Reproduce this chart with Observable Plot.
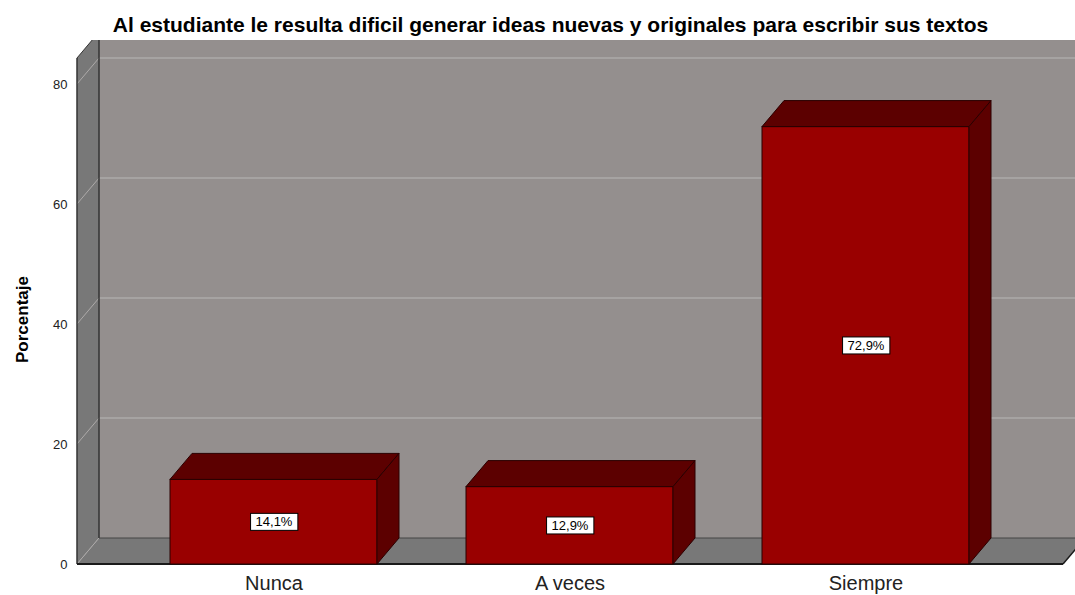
<!DOCTYPE html>
<html>
<head>
<meta charset="utf-8">
<script src="https://cdn.jsdelivr.net/npm/d3@7"></script>
<script src="https://cdn.jsdelivr.net/npm/@observablehq/plot@0.6"></script>
<style>
  html, body { margin: 0; padding: 0; background: #fff; }
  body { width: 1075px; height: 595px; overflow: hidden; font-family: "Liberation Sans", Arial, sans-serif; }
  #title { height: 40px; box-sizing: border-box; padding-top: 14px; padding-left: 26px; text-align: center;
           font-weight: bold; font-size: 21px; line-height: 21px; color: #000; white-space: nowrap; overflow: visible; }
  #chart svg { display: block; }
</style>
</head>
<body>
<div id="title">Al estudiante le resulta dificil generar ideas nuevas y originales para escribir sus textos</div>
<div id="chart"></div>
<script>
// ---- data ----
const categories = ["Nunca", "A veces", "Siempre"];
const percentages = [14.1, 12.9, 72.9];
const valueLabels = ["14,1%", "12,9%", "72,9%"];
const yTicks = [0, 20, 40, 60, 80];
const yAxisLabel = "Porcentaje";

const data = categories.map((c, i) => ({cat: c, pct: percentages[i], label: valueLabels[i]}));

// ---- style constants ----
const DX = 22, DY = -26;
const FRONT = "#990000", DARK = "#5c0000", EDGE = "#2a0000";
const BACKWALL = "#948f8e", SIDEWALL = "#787878", GRID = "#adaaa9";

const plot = Plot.plot({
  width: 1075,
  height: 555,
  marginLeft: 77,
  marginRight: 12,
  marginTop: 18,
  marginBottom: 31,
  style: {fontFamily: "'Liberation Sans', Arial, sans-serif", fontSize: "13px", color: "#222", background: "transparent"},
  x: {domain: categories, paddingInner: 0.3, paddingOuter: 0.3155, align: 0.5, label: null},
  y: {domain: [0, 84.33], label: null},
  marks: [
    Plot.axisY({ticks: yTicks, tickSize: 0, tickPadding: 10, fontSize: 13, fill: "#222", label: null}),
    Plot.axisX({tickSize: 0, tickPadding: 11, fontSize: 20, fill: "#222", label: null}),
    Plot.barY(data, {x: "cat", y: "pct", fill: FRONT, stroke: EDGE, strokeWidth: 1}),
    Plot.text(data, {x: "cat", y: d => d.pct / 2, text: "label", fontSize: 13, fill: "#000", className: "vlabel"}),
    Plot.text([yAxisLabel], {frameAnchor: "left", textAnchor: "middle", dx: -55, dy: 8, rotate: -90, fontWeight: "bold", fontSize: 17, fill: "#000"})
  ]
});

document.getElementById("chart").appendChild(plot);

// ---- 3D decoration via Plot's own scales ----
const xs = plot.scale("x"), ys = plot.scale("y");
const X = v => xs.apply(v), Y = v => ys.apply(v);
const bw = xs.bandwidth;
const [x0, x1] = xs.range;
const Y0 = Y(0);
const yTop = Y(ys.domain[1]);

const svg = d3.select(plot);
const pts = a => a.map(p => p.join(",")).join(" ");

// walls group, inserted behind marks
const walls = svg.insert("g", ":first-child").attr("class", "walls");
walls.append("rect")
  .attr("x", x0 + DX).attr("y", yTop + DY)
  .attr("width", x1 - x0).attr("height", Y0 - yTop)
  .attr("fill", BACKWALL);
walls.append("polygon")
  .attr("points", pts([[x0, Y0], [x0, yTop], [x0 + DX, yTop + DY], [x0 + DX, Y0 + DY]]))
  .attr("fill", SIDEWALL);
walls.append("polygon")
  .attr("points", pts([[x0, Y0], [x1, Y0], [x1 + DX, Y0 + DY], [x0 + DX, Y0 + DY]]))
  .attr("fill", SIDEWALL);
// grid lines
for (const t of yTicks) {
  if (t > 0) {
    walls.append("line")
      .attr("x1", x0 + DX).attr("x2", x1 + DX)
      .attr("y1", Y(t) + DY).attr("y2", Y(t) + DY)
      .attr("stroke", GRID).attr("stroke-width", 1.5);
  }
  walls.append("line")
    .attr("x1", x0).attr("y1", Y(t))
    .attr("x2", x0 + DX).attr("y2", Y(t) + DY)
    .attr("stroke", GRID).attr("stroke-width", 1);
}
// wall edges
walls.append("line").attr("x1", x0 + DX).attr("x2", x0 + DX).attr("y1", Y0 + DY).attr("y2", yTop + DY)
  .attr("stroke", "#333").attr("stroke-width", 1.5);
walls.append("line").attr("x1", x0 + DX).attr("x2", x1 + DX).attr("y1", Y0 + DY).attr("y2", Y0 + DY)
  .attr("stroke", "#444").attr("stroke-width", 1);
walls.append("line").attr("x1", x0).attr("x2", x0).attr("y1", Y0).attr("y2", yTop)
  .attr("stroke", "#333").attr("stroke-width", 1.5);
walls.append("line").attr("x1", x0).attr("x2", x0 + DX).attr("y1", yTop).attr("y2", yTop + DY)
  .attr("stroke", "#333").attr("stroke-width", 1);
walls.append("line").attr("x1", x0).attr("x2", x1).attr("y1", Y0).attr("y2", Y0)
  .attr("stroke", "#1a1a1a").attr("stroke-width", 2);
walls.append("line").attr("x1", x1).attr("x2", x1 + DX).attr("y1", Y0).attr("y2", Y0 + DY)
  .attr("stroke", "#1a1a1a").attr("stroke-width", 1.5);

// bar top and side faces
const faces = svg.append("g").attr("class", "faces");
for (const d of data) {
  const bx = X(d.cat), yv = Y(d.pct);
  faces.append("polygon")
    .attr("points", pts([[bx, yv], [bx + bw, yv], [bx + bw + DX, yv + DY], [bx + DX, yv + DY]]))
    .attr("fill", DARK).attr("stroke", EDGE).attr("stroke-width", 1).attr("stroke-linejoin", "round");
  faces.append("polygon")
    .attr("points", pts([[bx + bw, yv], [bx + bw + DX, yv + DY], [bx + bw + DX, Y0 + DY], [bx + bw, Y0]]))
    .attr("fill", DARK).attr("stroke", EDGE).attr("stroke-width", 1).attr("stroke-linejoin", "round");
}

// white label boxes behind value labels
svg.selectAll(".vlabel text").each(function() {
  const b = this.getBBox();
  const tr = this.getAttribute("transform");
  const r = document.createElementNS("http://www.w3.org/2000/svg", "rect");
  r.setAttribute("x", b.x - 5);
  r.setAttribute("y", b.y - 1);
  r.setAttribute("width", b.width + 10);
  r.setAttribute("height", b.height + 2);
  r.setAttribute("fill", "#fff");
  r.setAttribute("stroke", "#000");
  r.setAttribute("stroke-width", 1);
  if (tr) r.setAttribute("transform", tr);
  this.parentNode.insertBefore(r, this);
});
// keep labels above faces
const vl = plot.querySelector(".vlabel");
if (vl) plot.appendChild(vl);
</script>
</body>
</html>
